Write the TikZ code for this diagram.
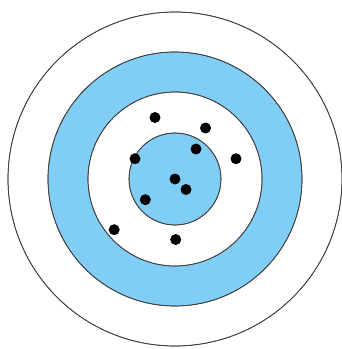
\documentclass[tikz,border=0pt]{standalone}
\definecolor{ringblue}{RGB}{128,205,245}
\definecolor{edge}{RGB}{60,60,60}
\tikzset{
  ring/.style={draw=edge, line width=0.7pt},
  hit/.style={circle, fill=black, inner sep=0pt, minimum size=11pt}
}
\begin{document}
\begin{tikzpicture}[x=1pt,y=-1pt]
\useasboundingbox[fill=white] (0,0) rectangle (342,349);
\coordinate (c) at (175,179);
\fill[white, ring] (c) circle[radius=167];
\fill[ringblue, ring] (c) circle[radius=127];
\fill[white, ring] (c) circle[radius=87];
\fill[ringblue, ring] (c) circle[radius=46];
\draw[edge, line width=0.7pt] (c) circle[radius=167] (c) circle[radius=127] (c) circle[radius=87] (c) circle[radius=46];
\node[hit] (d1) at (155,117.5) {};
\node[hit] (d2) at (205.5,128) {};
\node[hit] (d3) at (196,149) {};
\node[hit] (d4) at (236,158.7) {};
\node[hit] (d5) at (135,158.7) {};
\node[hit] (d6) at (175,179) {};
\node[hit] (d7) at (186,189.5) {};
\node[hit] (d8) at (145.3,199.7) {};
\node[hit] (d9) at (114.2,229.7) {};
\node[hit] (d10) at (175.7,239.5) {};
\end{tikzpicture}
\end{document}
